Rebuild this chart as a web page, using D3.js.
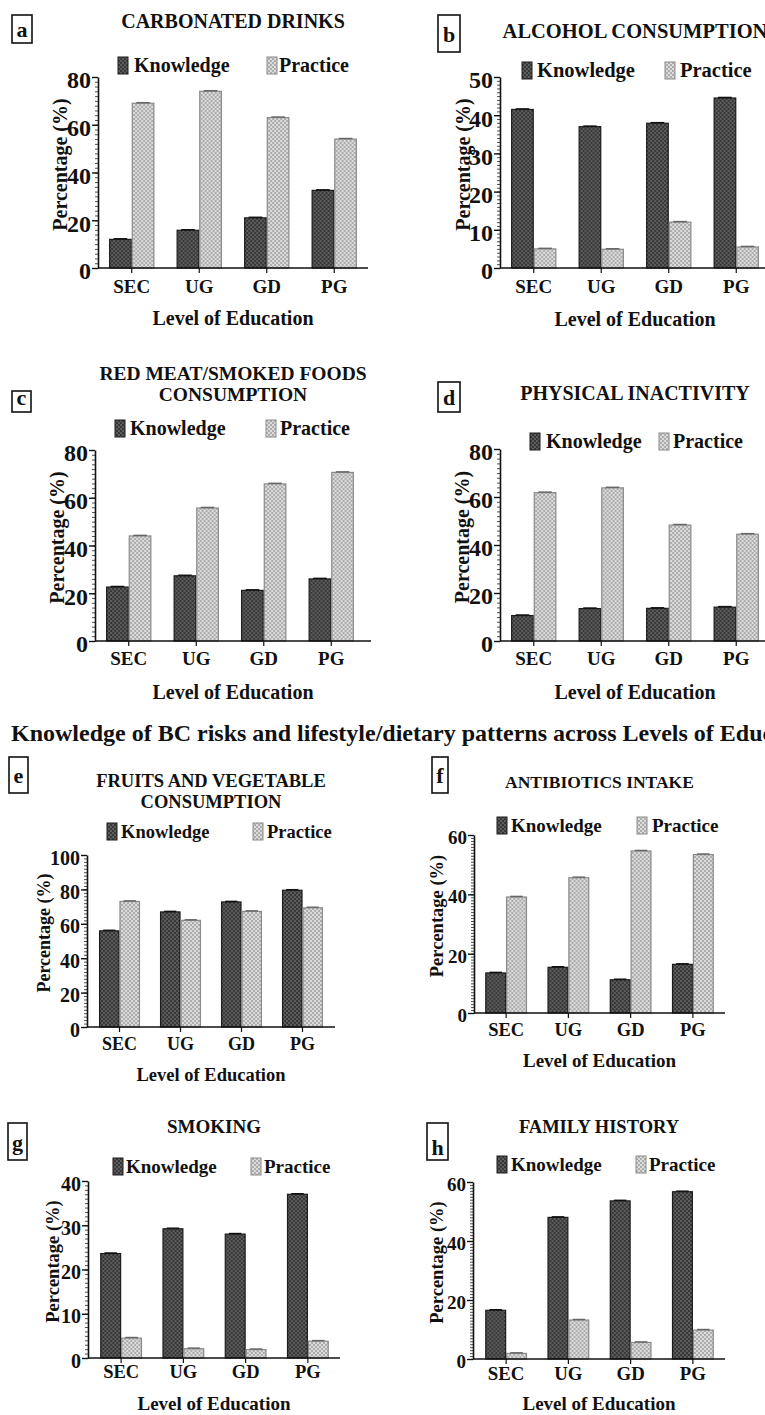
<!DOCTYPE html>
<html>
<head>
<meta charset="utf-8">
<script src="https://cdn.jsdelivr.net/npm/d3@7"></script>
<style>
  html, body { margin: 0; padding: 0; background: #ffffff; }
  svg { display: block; }
  text { font-family: "Liberation Serif", "Times New Roman", serif; font-weight: bold; fill: #111; }
</style>
</head>
<body>
<script>
// ---- Data ---------------------------------------------------------------
const levels = ["SEC", "UG", "GD", "PG"];
const seriesNames = ["Knowledge", "Practice"];

const carbonatedKnowledge = [12, 15.8, 21, 32.5];
const carbonatedPractice  = [69, 74, 63, 54];
const alcoholKnowledge    = [41.5, 37, 37.9, 44.5];
const alcoholPractice     = [5, 4.9, 12, 5.5];
const redMeatKnowledge    = [22.6, 27.3, 21.2, 26];
const redMeatPractice     = [44, 55.7, 65.8, 70.6];
const inactivityKnowledge = [10.6, 13.5, 13.6, 14.1];
const inactivityPractice  = [61.8, 63.8, 48.3, 44.5];
const fruitsKnowledge     = [55.9, 66.9, 72.7, 79.5];
const fruitsPractice      = [73, 62, 67.2, 69.3];
const antibioticsKnowledge = [13.5, 15.4, 11.2, 16.4];
const antibioticsPractice  = [39.1, 45.6, 54.6, 53.4];
const smokingKnowledge    = [23.6, 29.2, 28, 37];
const smokingPractice     = [4.5, 2.1, 1.9, 3.8];
const familyKnowledge     = [16.5, 48, 53.6, 56.7];
const familyPractice      = [1.9, 13.2, 5.6, 9.8];

const ticks80  = [0, 20, 40, 60, 80];
const ticks50  = [0, 10, 20, 30, 40, 50];
const ticks100 = [0, 20, 40, 60, 80, 100];
const ticks60  = [0, 20, 40, 60];
const ticks40  = [0, 10, 20, 30, 40];

const panelLetters = ["a", "b", "c", "d", "e", "f", "g", "h"];
const panelTitles = [
  ["CARBONATED DRINKS"],
  ["ALCOHOL CONSUMPTION"],
  ["RED MEAT/SMOKED FOODS", "CONSUMPTION"],
  ["PHYSICAL INACTIVITY"],
  ["FRUITS AND VEGETABLE", "CONSUMPTION"],
  ["ANTIBIOTICS INTAKE"],
  ["SMOKING"],
  ["FAMILY HISTORY"]
];
const figureTitle = "Knowledge of BC risks and lifestyle/dietary patterns across Levels of Education";
const yAxisTitle = "Percentage (%)";
const xAxisTitle = "Level of Education";

// ---- Panel layout --------------------------------------------------------
const panels = [
  { knowledge: carbonatedKnowledge, practice: carbonatedPractice, ticks: ticks80, minor: 2,
    x0: 98, range: [98, 368], axisEnd: 368, yTop: 77, yBot: 268,
    titleY: 28, titleSize: 20, lineH: 20,
    legendY: 72, kSw: 118, kTx: 134, pSw: 267, pTx: 279, legendSize: 20,
    tickSize: 24, catSize: 19, catY: 25, xTitleY: 325, xTitleSize: 20, yTitleSize: 20, yTitleX: 60,
    box: [12, 15, 20, 28], letterY: 37 },
  { knowledge: alcoholKnowledge, practice: alcoholPractice, ticks: ticks50, minor: 1,
    x0: 500, range: [500, 770], axisEnd: 770, yTop: 77, yBot: 268,
    titleY: 38, titleSize: 20.5, lineH: 20,
    legendY: 77, kSw: 522, kTx: 537, pSw: 665, pTx: 680, legendSize: 20.5,
    tickSize: 24, catSize: 19, catY: 25, xTitleY: 326, xTitleSize: 20, yTitleSize: 20, yTitleX: 463,
    box: [438, 15, 22, 37], letterY: 42 },
  { knowledge: redMeatKnowledge, practice: redMeatPractice, ticks: ticks80, minor: 2,
    x0: 95, range: [95, 365], axisEnd: 371, yTop: 450, yBot: 641,
    titleY: 380, titleSize: 19.5, lineH: 20.5,
    legendY: 435, kSw: 115, kTx: 130, pSw: 266, pTx: 280, legendSize: 20,
    tickSize: 24, catSize: 19, catY: 24, xTitleY: 699, xTitleSize: 20, yTitleSize: 20, yTitleX: 57,
    box: [12, 391, 19, 21], letterY: 405 },
  { knowledge: inactivityKnowledge, practice: inactivityPractice, ticks: ticks80, minor: 2,
    x0: 500, range: [500, 770], axisEnd: 770, yTop: 449, yBot: 641,
    titleY: 400, titleSize: 20, lineH: 20,
    legendY: 448, kSw: 530, kTx: 546, pSw: 659, pTx: 673, legendSize: 20,
    tickSize: 24, catSize: 19, catY: 24, xTitleY: 699, xTitleSize: 20, yTitleSize: 20, yTitleX: 462,
    box: [438, 382, 22, 30], letterY: 405 },
  { knowledge: fruitsKnowledge, practice: fruitsPractice, ticks: ticks100, minor: 2,
    x0: 87, range: [89, 333], axisEnd: 335, yTop: 855, yBot: 1027,
    titleY: 787, titleSize: 18.5, lineH: 20.5,
    legendY: 838, kSw: 107, kTx: 121, pSw: 253, pTx: 267, legendSize: 18.5,
    tickSize: 20, catSize: 18, catY: 23, xTitleY: 1081, xTitleSize: 18.5, yTitleSize: 18, yTitleX: 44,
    box: [9, 757, 19, 36], letterY: 783 },
  { knowledge: antibioticsKnowledge, practice: antibioticsPractice, ticks: ticks60, minor: 1,
    x0: 474, range: [475, 724], axisEnd: 725, yTop: 835, yBot: 1013,
    titleY: 788, titleSize: 17.5, lineH: 19,
    legendY: 832, kSw: 497, kTx: 511, pSw: 637, pTx: 652, legendSize: 19,
    tickSize: 19, catSize: 18.5, catY: 23, xTitleY: 1067, xTitleSize: 19, yTitleSize: 18.5, yTitleX: 437,
    box: [432, 757, 16, 36], letterY: 783 },
  { knowledge: smokingKnowledge, practice: smokingPractice, ticks: ticks40, minor: 1,
    x0: 88, range: [90, 339], axisEnd: 340, yTop: 1181, yBot: 1358,
    titleY: 1133, titleSize: 19, lineH: 19,
    legendY: 1173, kSw: 113, kTx: 126, pSw: 251, pTx: 264, legendSize: 19,
    tickSize: 20, catSize: 18.5, catY: 20, xTitleY: 1410, xTitleSize: 19, yTitleSize: 18.5, yTitleX: 53,
    box: [8, 1123, 19, 37], letterY: 1150 },
  { knowledge: familyKnowledge, practice: familyPractice, ticks: ticks60, minor: 1,
    x0: 473, range: [475, 724], axisEnd: 725, yTop: 1182, yBot: 1359,
    titleY: 1133, titleSize: 18.5, lineH: 19,
    legendY: 1171, kSw: 497, kTx: 511, pSw: 636, pTx: 649, legendSize: 19,
    tickSize: 19, catSize: 18.8, catY: 21, xTitleY: 1410, xTitleSize: 19, yTitleSize: 18.5, yTitleX: 437,
    box: [427, 1123, 21, 37], letterY: 1155 }
];

// ---- Canvas & textures ------------------------------------------------------
const W = 765, H = 1415;
const svg = d3.select("body").append("svg")
  .attr("width", W).attr("height", H).attr("viewBox", `0 0 ${W} ${H}`);

const defs = svg.append("defs");
function checker(id, a, b) {
  const p = defs.append("pattern").attr("id", id)
    .attr("patternUnits", "userSpaceOnUse").attr("width", 4).attr("height", 4);
  p.append("rect").attr("width", 4).attr("height", 4).attr("fill", a);
  p.append("rect").attr("width", 2).attr("height", 2).attr("fill", b);
  p.append("rect").attr("x", 2).attr("y", 2).attr("width", 2).attr("height", 2).attr("fill", b);
}
checker("texKnowledge", "#383838", "#5c5c5c");
checker("texPractice", "#acacac", "#dcdcdc");

const seriesStyle = {
  Knowledge: { fill: "url(#texKnowledge)", stroke: "#1c1c1c", cap: "#111" },
  Practice:  { fill: "url(#texPractice)",  stroke: "#8a8a8a", cap: "#666" }
};

// Figure-wide heading between the two blocks of panels
svg.append("text")
  .attr("x", 11).attr("y", 741)
  .style("font-size", "24px")
  .text(figureTitle);

// ---- One grouped-bar panel --------------------------------------------------
function drawPanel(p, i) {
  const g = svg.append("g").attr("class", "panel panel-" + panelLetters[i]);
  const yMax = p.ticks[p.ticks.length - 1];

  const x = d3.scaleBand().domain(levels).range(p.range)
    .paddingInner(0.33).paddingOuter(0.165);
  const xs = d3.scaleBand().domain(seriesNames).range([0, x.bandwidth()]);
  const y = d3.scaleLinear().domain([0, yMax]).range([p.yBot, p.yTop]);

  // panel letter in a box
  const [bx, by, bw, bh] = p.box;
  g.append("rect").attr("x", bx).attr("y", by).attr("width", bw).attr("height", bh)
    .attr("fill", "none").attr("stroke", "#111").attr("stroke-width", 1.6);
  g.append("text").attr("x", bx + bw / 2).attr("y", p.letterY)
    .attr("text-anchor", "middle").style("font-size", "22px").text(panelLetters[i]);

  // title
  const cx = (p.x0 + p.axisEnd) / 2;
  g.selectAll("text.ptitle").data(panelTitles[i]).join("text")
    .attr("class", "ptitle")
    .attr("x", cx).attr("y", (d, k) => p.titleY + k * p.lineH)
    .attr("text-anchor", "middle").style("font-size", p.titleSize + "px")
    .text(d => d);

  // legend
  const legend = [
    { name: "Knowledge", sw: p.kSw, tx: p.kTx },
    { name: "Practice", sw: p.pSw, tx: p.pTx }
  ];
  legend.forEach(l => {
    g.append("rect").attr("x", l.sw).attr("y", p.legendY - 15).attr("width", 10).attr("height", 17)
      .attr("fill", seriesStyle[l.name].fill).attr("stroke", seriesStyle[l.name].stroke).attr("stroke-width", 1);
    g.append("text").attr("x", l.tx).attr("y", p.legendY)
      .style("font-size", p.legendSize + "px").text(l.name);
  });

  // bars
  const rows = levels.map((lv, k) => ({ level: lv, Knowledge: p.knowledge[k], Practice: p.practice[k] }));
  const groups = g.append("g").selectAll("g").data(rows).join("g")
    .attr("transform", d => `translate(${x(d.level)},0)`);
  const cells = groups.selectAll("g").data(d => seriesNames.map(s => ({ s, v: d[s] }))).join("g");
  cells.append("rect")
    .attr("x", d => xs(d.s) + 0.5).attr("width", xs.bandwidth() - 1)
    .attr("y", d => y(d.v)).attr("height", d => y(0) - y(d.v))
    .attr("fill", d => seriesStyle[d.s].fill)
    .attr("stroke", d => seriesStyle[d.s].stroke).attr("stroke-width", 1.2);
  cells.append("line")
    .attr("x1", d => xs(d.s) + xs.bandwidth() * 0.2).attr("x2", d => xs(d.s) + xs.bandwidth() * 0.8)
    .attr("y1", d => y(d.v) - 0.6).attr("y2", d => y(d.v) - 0.6)
    .attr("stroke", d => seriesStyle[d.s].cap).attr("stroke-width", 1.4);

  // y axis: minor ticks then labelled major ticks
  g.append("g").attr("transform", `translate(${p.x0},0)`)
    .call(d3.axisLeft(y).tickValues(d3.range(0, yMax + 0.001, p.minor)).tickSize(3).tickFormat("").tickSizeOuter(0))
    .call(a => a.select(".domain").remove())
    .call(a => a.selectAll("line").attr("stroke", "#222").attr("stroke-width", 0.8));
  const ya = g.append("g").attr("transform", `translate(${p.x0},0)`)
    .call(d3.axisLeft(y).tickValues(p.ticks).tickSize(6).tickPadding(1).tickFormat(d3.format("d")).tickSizeOuter(0));
  ya.select(".domain").attr("stroke", "#111").attr("stroke-width", 1.6);
  ya.selectAll("line").attr("stroke", "#111").attr("stroke-width", 1.4);
  ya.selectAll("text").attr("dy", "0.45em")
    .style("font-size", p.tickSize + "px").style("font-family", null).attr("fill", "#111");

  // x axis baseline and category ticks
  g.append("line").attr("x1", p.x0).attr("x2", p.axisEnd).attr("y1", p.yBot).attr("y2", p.yBot)
    .attr("stroke", "#111").attr("stroke-width", 1.6);
  const xa = g.append("g").attr("transform", `translate(0,${p.yBot})`)
    .call(d3.axisBottom(x).tickSize(5).tickSizeOuter(0));
  xa.select(".domain").remove();
  xa.selectAll("line").attr("stroke", "#111").attr("stroke-width", 1.2);
  xa.selectAll("text").attr("y", p.catY).attr("dy", 0)
    .style("font-size", p.catSize + "px").style("font-family", null).attr("fill", "#111");

  // axis titles
  g.append("text").attr("x", cx).attr("y", p.xTitleY).attr("text-anchor", "middle")
    .style("font-size", p.xTitleSize + "px").text(xAxisTitle);
  const ym = (p.yTop + p.yBot) / 2 - 8;
  g.append("text").attr("transform", `translate(${p.yTitleX + p.yTitleSize * 0.35},${ym}) rotate(-90)`)
    .attr("text-anchor", "middle").style("font-size", p.yTitleSize + "px").text(yAxisTitle);
}

panels.forEach(drawPanel);
</script>
</body>
</html>
